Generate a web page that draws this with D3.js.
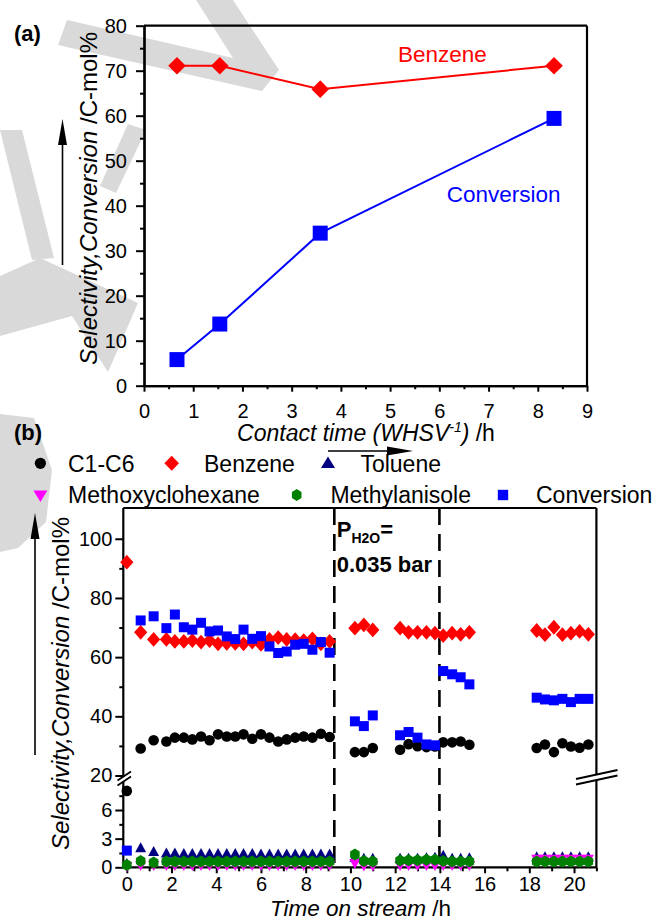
<!DOCTYPE html>
<html><head><meta charset="utf-8">
<script src="https://cdn.jsdelivr.net/npm/d3@7"></script>
<style>
html,body{margin:0;padding:0;background:#fff;}
svg{display:block;font-family:"Liberation Sans",Arial,Helvetica,sans-serif;}
</style></head><body>
<svg id="chart" width="655" height="922"></svg>
<script>
// ---------- Panel (a) data ----------
const contactTime = [0.67, 1.54, 3.58, 8.33];
const benzeneA = [71.1, 71.1, 65.9, 71.1];
const conversionA = [5.8, 13.7, 33.9, 59.4];
const xTicksA = [0,1,2,3,4,5,6,7,8,9];
const xMinorA = [0.5,1.5,2.5,3.5,4.5,5.5,6.5,7.5,8.5];
const yTicksA = [0,10,20,30,40,50,60,70,80];
const yMinorA = [5,15,25,35,45,55,65,75];

// ---------- Panel (b) data ----------
const timeOnStream = [0, 0.62, 1.2, 1.77, 2.15, 2.55, 2.93, 3.32, 3.7, 4.08, 4.47, 4.85, 5.22, 5.61, 6.0, 6.38, 6.77, 7.15, 7.53, 7.91, 8.3, 8.68, 9.07,
  10.2, 10.6, 11.0,
  12.22, 12.6, 13.0, 13.4, 13.78,
  14.15, 14.55, 14.93, 15.32,
  18.33, 18.7, 19.1, 19.48, 19.86, 20.25, 20.64];
const c1c6 = [8.0, 29.1, 31.9, 31.5, 32.8, 32.8, 32.2, 33.2, 31.9, 33.9, 33.2, 33.2, 33.9, 32.4, 33.9, 32.8, 31.5, 32.2, 32.8, 33.2, 32.8, 34.1, 33.0,
  27.9, 27.9, 29.3,
  28.7, 30.6, 29.9, 29.6, 29.8,
  31.2, 31.2, 31.5, 30.4,
  29.3, 30.5, 27.9, 30.9, 29.8, 29.4, 30.5];
const benzeneB = [92.1, 68.4, 66.0, 66.0, 65.3, 65.3, 65.6, 65.1, 65.6, 64.5, 64.7, 64.7, 64.5, 65.1, 64.3, 66.0, 66.6, 66.0, 65.9, 65.6, 66.2, 64.5, 65.3,
  69.8, 70.9, 69.2,
  69.8, 68.4, 68.4, 68.4, 68.1,
  67.3, 68.1, 67.7, 68.4,
  69.0, 67.6, 70.1, 67.6, 68.1, 68.7, 67.7];
const toluene = [0.35, 2.0, 1.6, 1.45, 1.45, 1.4, 1.4, 1.4, 1.4, 1.4, 1.4, 1.4, 1.4, 1.4, 1.35, 1.35, 1.35, 1.35, 1.35, 1.35, 1.35, 1.35, 1.35,
  1.0, 0.9, 0.9,
  0.9, 0.9, 0.9, 0.95, 1.0,
  1.2, 0.9, 0.9, 0.95,
  1.05, 1.05, 1.05, 1.05, 1.05, 1.05, 1.05];
const methoxycyclohexane = [0.1, 0.25, 0.25, 0.25, 0.25, 0.25, 0.25, 0.25, 0.25, 0.25, 0.25, 0.25, 0.25, 0.25, 0.25, 0.25, 0.25, 0.25, 0.25, 0.25, 0.25, 0.25, 0.25,
  0.45, 0.2, 0.2,
  0.25, 0.25, 0.25, 0.25, 0.25,
  0.25, 0.25, 0.25, 0.25,
  0.9, 0.9, 0.9, 0.9, 0.9, 0.9, 0.9];
const methylanisole = [0.25, 0.65, 0.5, 0.6, 0.6, 0.6, 0.6, 0.6, 0.6, 0.6, 0.6, 0.6, 0.6, 0.6, 0.6, 0.6, 0.6, 0.6, 0.6, 0.6, 0.6, 0.6, 0.6,
  1.35, 0.65, 0.6,
  0.7, 0.75, 0.75, 0.8, 0.8,
  0.65, 0.6, 0.6, 0.6,
  0.6, 0.6, 0.6, 0.6, 0.6, 0.6, 0.6];
const conversionB = [1.75, 72.4, 73.8, 69.8, 74.4, 70.1, 69.3, 71.6, 68.7, 69.0, 67.0, 66.1, 69.3, 66.2, 67.1, 63.6, 61.4, 61.9, 64.2, 64.5, 62.5, 65.1, 61.5,
  38.3, 36.7, 40.3,
  33.6, 34.7, 32.8, 30.5, 30.2,
  55.3, 54.2, 53.2, 50.8,
  46.3, 45.7, 45.4, 45.9, 44.8, 45.9, 45.9];
const conditionChanges = [9.28, 13.98];
const xTicksB = [0,2,4,6,8,10,12,14,16,18,20];
const xMinorB = [1,3,5,7,9,11,13,15,17,19,21];
const yTicksUpper = [20,40,60,80,100];
const yMinorUpper = [30,50,70,90];
const yTicksLower = [0,3,6];
const yMinorLower = [1.5,4.5,7.5];
const legendNames = ["C1-C6","Benzene","Toluene","Methoxyclohexane","Methylanisole","Conversion"];

// ---------- helpers ----------
const svg = d3.select("#chart");
const RED = "#ff0000", BLUE = "#0000ff", NAVY = "#000080", MAGENTA = "#ff00ff", GREEN = "#008000", BLACK = "#000";
const diamond = (w,h) => `M0,${-h}L${w},0L0,${h}L${-w},0Z`;
const square = s => `M${-s/2},${-s/2}h${s}v${s}h${-s}Z`;
const triUp = (w,h) => `M0,${-h*0.6}L${w/2},${h*0.4}L${-w/2},${h*0.4}Z`;
const triDown = (w,h) => `M0,${h*0.6}L${w/2},${-h*0.4}L${-w/2},${-h*0.4}Z`;
const hexagon = r => { let p=""; for(let k=0;k<6;k++){const a=-Math.PI/2+k*Math.PI/3; p+=(k?"L":"M")+(r*0.92*Math.cos(a)).toFixed(2)+","+(r*Math.sin(a)).toFixed(2);} return p+"Z"; };
const circle = r => d3.symbol(d3.symbolCircle, Math.PI*r*r)();

// ---------- watermark (light grey background logo) ----------
const wm = svg.append("g").attr("fill","#d9d9d9");
wm.append("path").attr("d","M196,0L233,0L279,70L262,91L58,45L67,20L233,58Z");
wm.append("path").attr("d","M128,124L146,130L116,193L100,186Z");
wm.append("path").attr("d","M0,130L22,130L54,258L32,260Z");
wm.append("path").attr("d","M0,276L40,258L138,303L108,372L72,316L0,336Z");
wm.append("path").attr("d","M0,414L34,418L52,470L46,522L18,548L0,552Z");

// ================= PANEL (a) =================
const xA = d3.scaleLinear().domain([0,9]).range([144,587]);
const yA = d3.scaleLinear().domain([0,80]).range([385.7,25.7]);
const gA = svg.append("g");

function styleAxis(g){
  g.selectAll("path.domain").attr("stroke","#000").attr("stroke-width",2.2);
  g.selectAll(".tick line").attr("stroke","#000").attr("stroke-width",2);
  g.selectAll(".tick text").attr("fill","#000").style("font-size","20px").style("font-family",'"Liberation Sans",Arial,sans-serif');
}
// frame top/right
gA.append("line").attr("x1",xA(0)).attr("x2",xA(9)).attr("y1",yA(80)).attr("y2",yA(80)).attr("stroke","#000").attr("stroke-width",2.2);
gA.append("line").attr("x1",xA(9)).attr("x2",xA(9)).attr("y1",yA(80)).attr("y2",yA(0)).attr("stroke","#000").attr("stroke-width",2.2);
// axes
gA.append("g").attr("transform",`translate(0,${yA(0)})`)
  .call(d3.axisBottom(xA).tickValues(xMinorA).tickSize(3.5).tickFormat("").tickSizeOuter(0)).call(styleAxis);
gA.append("g").attr("transform",`translate(0,${yA(0)})`)
  .call(d3.axisBottom(xA).tickValues(xTicksA).tickSize(6).tickPadding(12).tickSizeOuter(0)).call(styleAxis);
gA.append("g").attr("transform",`translate(${xA(0)},0)`)
  .call(d3.axisLeft(yA).tickValues(yMinorA).tickSize(4).tickFormat("").tickSizeOuter(0)).call(styleAxis);
gA.append("g").attr("transform",`translate(${xA(0)},0)`)
  .call(d3.axisLeft(yA).tickValues(yTicksA).tickSize(8).tickPadding(9).tickSizeOuter(0)).call(styleAxis);

const lineA = d3.line().x(d=>xA(d[0])).y(d=>yA(d[1]));
const benzPts = contactTime.map((t,i)=>[t,benzeneA[i]]);
const convPts = contactTime.map((t,i)=>[t,conversionA[i]]);
gA.append("path").attr("d",lineA(benzPts)).attr("fill","none").attr("stroke",RED).attr("stroke-width",2);
gA.append("path").attr("d",lineA(convPts)).attr("fill","none").attr("stroke",BLUE).attr("stroke-width",2);
gA.selectAll(".bz").data(benzPts).join("path").attr("d",diamond(8.8,8.8))
  .attr("transform",d=>`translate(${xA(d[0])},${yA(d[1])})`).attr("fill",RED);
gA.selectAll(".cv").data(convPts).join("path").attr("d",square(15))
  .attr("transform",d=>`translate(${xA(d[0])},${yA(d[1])})`).attr("fill",BLUE);

gA.append("text").attr("x",398).attr("y",61.7).attr("fill",RED).style("font-size","22.5px").text("Benzene");
gA.append("text").attr("x",446.7).attr("y",201.7).attr("fill",BLUE).style("font-size","22.5px").text("Conversion");
svg.append("text").attr("x",14).attr("y",41).style("font-size","22px").style("font-weight","bold").text("(a)");

// y title (a)
const tA = svg.append("text").attr("transform","translate(97,365) rotate(-90)").style("font-size","24px");
tA.append("tspan").style("font-style","italic").text("Selectivity,Conversion");
tA.append("tspan").text(" /C-mol%");
// arrow (a)
svg.append("line").attr("x1",62.5).attr("x2",62.5).attr("y1",265).attr("y2",140).attr("stroke","#000").attr("stroke-width",1.6);
svg.append("path").attr("d","M62.5,119L67,145L58,145Z").attr("fill","#000");
// x title (a)
const xtA = svg.append("text").attr("x",366).attr("y",441).attr("text-anchor","middle").style("font-size","23px");
xtA.append("tspan").style("font-style","italic").text("Contact time (WHSV");
xtA.append("tspan").style("font-style","italic").style("font-size","14px").attr("dy",-9).text("-1");
xtA.append("tspan").style("font-style","italic").attr("dy",9).text(")");
xtA.append("tspan").text(" /h");
svg.append("line").attr("x1",328).attr("x2",392).attr("y1",451).attr("y2",451).attr("stroke","#000").attr("stroke-width",1.6);
svg.append("path").attr("d","M413,451L387,446.5L387,455.5Z").attr("fill","#000");

// ================= PANEL (b) =================
const xB = d3.scaleLinear().domain([0,21]).range([126.8,596.4]);
const yUp = d3.scaleLinear().domain([20,110.4]).range([775.5,508]);
const yLow = d3.scaleLinear().domain([0,9.3]).range([867.3,778.5]);
const yB = v => v > 15 ? yUp(v) : yLow(v);
const leftX = 123.3, rightX = xB(21), topY = 508, botY = yLow(0);
const gB = svg.append("g");

svg.append("text").attr("x",14).attr("y",440).style("font-size","22px").style("font-weight","bold").text("(b)");

// legend
const legendMarks = [
  {d:circle(5.6), c:BLACK, x:40.4, y:463.3, tx:68, ty:471.7},
  {d:diamond(7.3,7.5), c:RED, x:171.7, y:463.3, tx:204, ty:471.7},
  {d:triUp(14,11.5), c:NAVY, x:328, y:463.3, tx:360.4, ty:471.7},
  {d:triDown(14,11.5), c:MAGENTA, x:40.4, y:495, tx:68, ty:503},
  {d:hexagon(6), c:GREEN, x:296.7, y:495, tx:330.4, ty:503},
  {d:square(10.4), c:BLUE, x:503, y:495, tx:536, ty:503}
];
legendMarks.forEach((m,i)=>{
  svg.append("path").attr("d",m.d).attr("transform",`translate(${m.x},${m.y})`).attr("fill",m.c);
  svg.append("text").attr("x",m.tx).attr("y",m.ty).style("font-size","23px").text(legendNames[i]);
});

// frame
gB.append("line").attr("x1",leftX).attr("x2",rightX).attr("y1",topY).attr("y2",topY).attr("stroke","#000").attr("stroke-width",2.2);
gB.append("line").attr("x1",rightX).attr("x2",rightX).attr("y1",topY).attr("y2",botY).attr("stroke","#000").attr("stroke-width",2.2);
gB.append("line").attr("x1",leftX).attr("x2",leftX).attr("y1",topY).attr("y2",botY).attr("stroke","#000").attr("stroke-width",2.2);
gB.append("line").attr("x1",leftX).attr("x2",rightX).attr("y1",botY).attr("y2",botY).attr("stroke","#000").attr("stroke-width",2.2);

function noDomain(g){ g.selectAll("path.domain").remove(); styleAxis(g); }
gB.append("g").attr("transform",`translate(0,${botY})`)
  .call(d3.axisBottom(xB).tickValues(xMinorB).tickSize(4).tickFormat("")).call(noDomain);
gB.append("g").attr("transform",`translate(0,${botY})`)
  .call(d3.axisBottom(xB).tickValues(xTicksB).tickSize(6).tickPadding(4)).call(noDomain);
gB.append("g").attr("transform",`translate(${leftX},0)`)
  .call(d3.axisLeft(yUp).tickValues(yMinorUpper).tickSize(4).tickFormat("")).call(noDomain);
gB.append("g").attr("transform",`translate(${leftX},0)`)
  .call(d3.axisLeft(yUp).tickValues(yTicksUpper).tickSize(8).tickPadding(3)).call(noDomain);
gB.append("g").attr("transform",`translate(${leftX},0)`)
  .call(d3.axisLeft(yLow).tickValues(yMinorLower).tickSize(4).tickFormat("")).call(noDomain);
gB.append("g").attr("transform",`translate(${leftX},0)`)
  .call(d3.axisLeft(yLow).tickValues(yTicksLower).tickSize(8).tickPadding(3)).call(noDomain);

// condition change dashed lines
gB.selectAll(".cc").data(conditionChanges).join("line")
  .attr("x1",d=>xB(d)).attr("x2",d=>xB(d)).attr("y1",topY).attr("y2",botY)
  .attr("stroke","#000").attr("stroke-width",2.6).attr("stroke-dasharray","17,9");

// axis break marks
function breakMark(x0,y0,x1,y1,gap){
  gB.append("path").attr("d",`M${x0},${y0}L${x1},${y1}L${x1},${y1-gap}L${x0},${y0-gap}Z`).attr("fill","#fff");
  gB.append("line").attr("x1",x0).attr("y1",y0).attr("x2",x1).attr("y2",y1).attr("stroke","#000").attr("stroke-width",1.8);
  gB.append("line").attr("x1",x0).attr("y1",y0-gap).attr("x2",x1).attr("y2",y1-gap).attr("stroke","#000").attr("stroke-width",1.8);
}
breakMark(117.5,785.5,131,776.5,5);
breakMark(576,784.5,617.5,775.5,5.5);

// water partial pressure annotation
const ph = gB.append("text").attr("x",336.7).attr("y",536.7).style("font-size","22px").style("font-weight","bold");
ph.append("tspan").text("P");
ph.append("tspan").style("font-size","14px").attr("dy",6).text("H2O");
ph.append("tspan").attr("dy",-6).text("=");
gB.append("text").attr("x",336.7).attr("y",571.7).style("font-size","22px").style("font-weight","bold").text("0.035 bar");

// series
const seriesB = [
  {v:c1c6, d:circle(5.3), c:BLACK},
  {v:benzeneB, d:diamond(6.6,7.4), c:RED},
  {v:toluene, d:triUp(11,10), c:NAVY},
  {v:methoxycyclohexane, d:triDown(11,10), c:MAGENTA},
  {v:methylanisole, d:hexagon(6), c:GREEN},
  {v:conversionB, d:square(10), c:BLUE}
];
seriesB.forEach(s=>{
  gB.append("g").selectAll("path").data(timeOnStream.map((t,i)=>[t,s.v[i]])).join("path")
    .attr("d",s.d).attr("fill",s.c)
    .attr("transform",d=>`translate(${xB(d[0])},${yB(d[1])})`);
});

// axis titles (b)
const tB = svg.append("text").attr("transform","translate(69,850) rotate(-90)").style("font-size","24px");
tB.append("tspan").style("font-style","italic").text("Selectivity,Conversion");
tB.append("tspan").text(" /C-mol%");
svg.append("line").attr("x1",35).attr("x2",35).attr("y1",755).attr("y2",536).attr("stroke","#000").attr("stroke-width",1.6);
svg.append("path").attr("d","M35,513L39.5,539L30.5,539Z").attr("fill","#000");
const xtB = svg.append("text").attr("x",270).attr("y",916).style("font-size","22.5px");
xtB.append("tspan").style("font-style","italic").text("Time on stream");
xtB.append("tspan").text(" /h");
</script>
</body></html>
